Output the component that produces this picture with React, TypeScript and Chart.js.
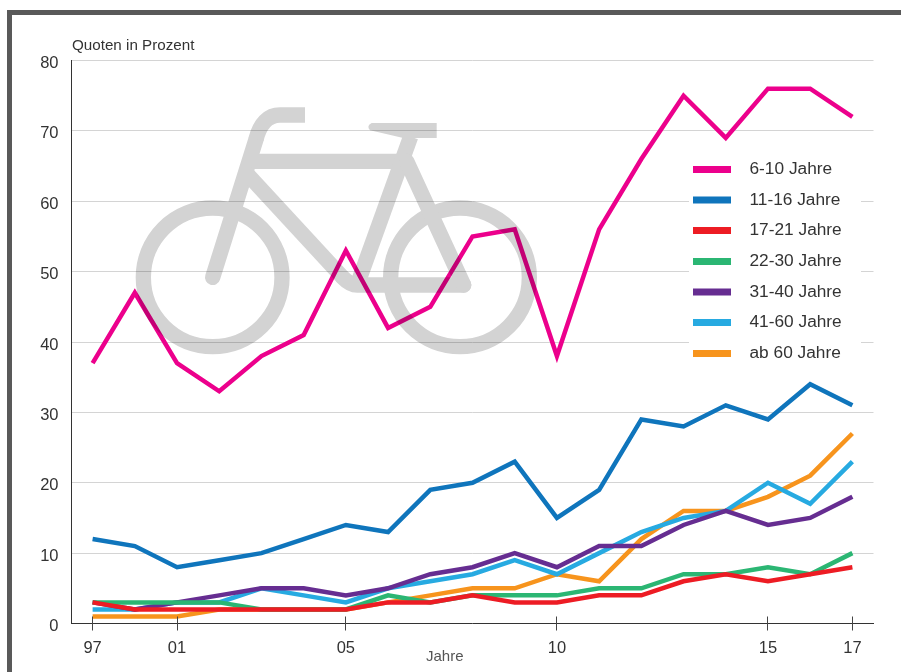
import React, { useEffect, useRef } from "react";
import { Chart, registerables } from "chart.js";

Chart.register(...registerables);

const years = ["97", "99", "01", "02", "03", "04", "05", "06", "07", "08", "09", "10", "11", "12", "13", "14", "15", "16", "17"];
const shownYears = ["97", "01", "05", "10", "15", "17"];

const age6to10 = [37, 47, 37, 33, 38, 41, 53, 42, 45, 55, 56, 38, 56, 66, 75, 69, 76, 76, 72];
const age11to16 = [12, 11, 8, 9, 10, 12, 14, 13, 19, 20, 23, 15, 19, 29, 28, 31, 29, 34, 31];
const age17to21 = [3, 2, 2, 2, 2, 2, 2, 3, 3, 4, 3, 3, 4, 4, 6, 7, 6, 7, 8];
const age22to30 = [3, 3, 3, 3, 2, 2, 2, 4, 3, 4, 4, 4, 5, 5, 7, 7, 8, 7, 10];
const age31to40 = [3, 2, 3, 4, 5, 5, 4, 5, 7, 8, 10, 8, 11, 11, 14, 16, 14, 15, 18];
const age41to60 = [2, 2, 3, 3, 5, 4, 3, 5, 6, 7, 9, 7, 10, 13, 15, 16, 20, 17, 23];
const age60plus = [1, 1, 1, 2, 2, 2, 2, 3, 4, 5, 5, 7, 6, 12, 16, 16, 18, 21, 27];

const labels = ["6-10 Jahre", "11-16 Jahre", "17-21 Jahre", "22-30 Jahre", "31-40 Jahre", "41-60 Jahre", "ab 60 Jahre"];
const colors = ["#ec008c", "#0f75bc", "#ed1c24", "#2bb673", "#662d91", "#27aae1", "#f7941d"];
const seriesValues = [age6to10, age11to16, age17to21, age22to30, age31to40, age41to60, age60plus];
const drawOrder = [0, 2, 1, 3, 4, 5, 6];

const FONT = '"Liberation Sans", Arial, sans-serif';
const legendRows = [169.5, 200, 230.5, 261.5, 292, 322.5, 353.5];

function makeBike(): HTMLCanvasElement {
  const off = document.createElement("canvas");
  off.width = 901;
  off.height = 672;
  const c = off.getContext("2d")!;
  c.translate(120, 90);
  c.scale(1 / 3, 1 / 3);
  c.strokeStyle = "#d3d3d3";
  c.fillStyle = "#d3d3d3";
  c.lineWidth = 46;
  c.lineJoin = "round";
  c.lineCap = "butt";
  for (const cx of [278, 1020]) {
    c.beginPath();
    c.arc(cx, 562, 208, 0, Math.PI * 2);
    c.stroke();
  }
  c.lineCap = "round";
  c.beginPath();
  c.moveTo(278, 562);
  c.lineTo(408, 148);
  c.stroke();
  c.lineCap = "butt";
  c.beginPath();
  c.moveTo(408, 148);
  c.bezierCurveTo(420, 100, 445, 75, 480, 75);
  c.lineTo(555, 75);
  c.stroke();
  c.beginPath();
  c.moveTo(395, 214);
  c.lineTo(860, 214);
  c.stroke();
  c.beginPath();
  c.moveTo(717, 570);
  c.lineTo(872, 140);
  c.stroke();
  c.beginPath();
  c.moveTo(375, 245);
  c.lineTo(668, 562);
  c.stroke();
  c.lineCap = "round";
  c.beginPath();
  c.moveTo(668, 562);
  c.quadraticCurveTo(690, 585, 712, 585);
  c.lineTo(1031, 585);
  c.stroke();
  c.beginPath();
  c.moveTo(860, 214);
  c.lineTo(1031, 585);
  c.stroke();
  c.beginPath();
  c.moveTo(950, 99);
  c.lineTo(755, 99);
  c.quadraticCurveTo(738, 108, 750, 121);
  c.lineTo(850, 144);
  c.lineTo(950, 144);
  c.closePath();
  c.fill();
  return off;
}

const decorations = {
  id: "decorations",
  afterDatasetsDraw(chart: any) {
    const c: CanvasRenderingContext2D = chart.ctx;
    c.save();
    c.globalCompositeOperation = "multiply";
    c.drawImage(makeBike(), 0, 0);
    c.restore();

    // x-axis ticks crossing the axis line at the labelled years
    const xs = chart.scales.x;
    const bottom = chart.chartArea.bottom;
    c.save();
    c.strokeStyle = "#444444";
    c.lineWidth = 1;
    years.forEach((y, i) => {
      if (!shownYears.includes(y)) return;
      const px = Math.floor(xs.getPixelForValue(i)) + 0.5;
      c.beginPath();
      c.moveTo(px, bottom - 7);
      c.lineTo(px, bottom + 7);
      c.stroke();
    });
    c.restore();

    // legend
    c.save();
    c.fillStyle = "#ffffff";
    c.fillRect(689, 150, 172, 222);
    c.font = `17.3px ${FONT}`;
    c.textBaseline = "middle";
    labels.forEach((t, i) => {
      const y = legendRows[i];
      c.fillStyle = colors[i];
      c.fillRect(693, y - 3.5, 38, 7);
      c.fillStyle = "#333333";
      c.fillText(t, 749.5, y);
    });
    // axis captions
    c.fillStyle = "#333333";
    c.font = `15.2px ${FONT}`;
    c.textBaseline = "alphabetic";
    c.fillText("Quoten in Prozent", 72, 50);
    c.fillStyle = "#555555";
    c.font = `15px ${FONT}`;
    c.fillText("Jahre", 426, 661);
    c.restore();
  },
};

export default function App() {
  const ref = useRef<HTMLCanvasElement>(null);
  useEffect(() => {
    document.body.style.margin = "0";
    const chart = new Chart(ref.current!, {
      type: "line",
      data: {
        labels: years,
        datasets: drawOrder.map((k, pos) => ({
          label: labels[k],
          data: seriesValues[k],
          borderColor: colors[k],
          backgroundColor: colors[k],
          borderWidth: 4.5,
          pointRadius: 0,
          tension: 0,
          borderJoinStyle: "miter" as const,
          borderCapStyle: "butt" as const,
          order: pos,
        })),
      },
      options: {
        animation: false,
        responsive: false,
        layout: { padding: { top: 60.5, right: 27.5, left: 0, bottom: 0 } },
        plugins: { legend: { display: false }, title: { display: false }, tooltip: { enabled: false } },
        scales: {
          x: {
            type: "category",
            offset: true,
            afterFit: (s: any) => { s.height = 48.5; },
            grid: { display: false, drawTicks: false },
            border: { display: true, color: "#333333", width: 1 },
            ticks: {
              autoSkip: false,
              maxRotation: 0,
              padding: 15,
              color: "#333333",
              font: { family: FONT, size: 16.5 },
              callback: (_v: any, i: number) => (shownYears.includes(years[i]) ? years[i] : ""),
            },
          },
          y: {
            min: 0,
            max: 80,
            afterFit: (s: any) => { s.width = 71.5; },
            grid: { color: "#d4d4d4", lineWidth: 1, drawTicks: false },
            border: { display: true, color: "#333333", width: 1 },
            ticks: {
              stepSize: 10,
              padding: 13,
              labelOffset: 3,
              color: "#333333",
              font: { family: FONT, size: 16.5 },
            },
          },
        },
      },
      plugins: [decorations],
    } as any);
    return () => chart.destroy();
  }, []);

  return (
    <div style={{ position: "relative", width: 901, height: 672, overflow: "hidden", background: "#fff" }}>
      <div style={{ position: "absolute", left: 7, top: 10, right: -10, bottom: -10, borderLeft: "5px solid #595959", borderTop: "5px solid #595959" }} />
      <canvas ref={ref} width={901} height={672} style={{ position: "absolute", left: 0, top: 0 }} />
    </div>
  );
}
